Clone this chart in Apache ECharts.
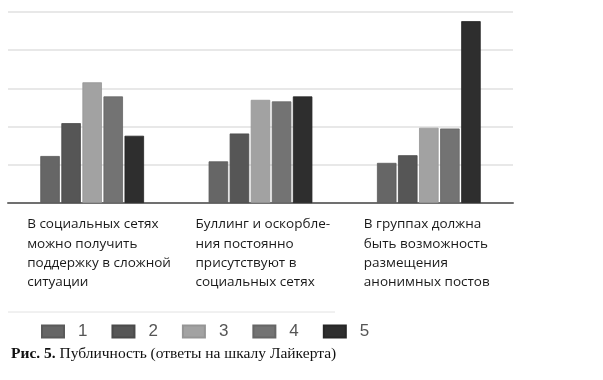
<!DOCTYPE html>
<html>
<head>
<meta charset="utf-8">
<script src="https://cdn.jsdelivr.net/npm/echarts@6/dist/echarts.min.js"></script>
<style>html,body{margin:0;padding:0;background:#fff}#c{width:603px;height:380px}</style>
</head>
<body>
<div id="c"></div>
<script>
const categories = [
  'В социальных сетях\nможно получить\nподдержку в сложной\nситуации',
  'Буллинг и оскорбле-\nния постоянно\nприсутствуют в\nсоциальных сетях',
  'В группах должна\nбыть возможность\nразмещения\nанонимных постов'
];
const seriesNames = ['1', '2', '3', '4', '5'];
const s1 = [12.3, 10.9, 10.5];
const s2 = [20.9, 18.2, 12.5];
const s3 = [31.6, 27.0, 19.7];
const s4 = [27.9, 26.6, 19.5];
const s5 = [17.6, 27.9, 47.6];
const yTicks = [0, 10, 20, 30, 40, 50];
const captionBold = 'Рис. 5.';
const captionText = 'Публичность (ответы на шкалу Лайкерта)';

const colors = ['#666666', '#565656', '#a2a2a2', '#737373', '#2e2e2e'];
const borders = ['#5a5a5a', '#4a4a4a', '#959595', '#666666', '#262626'];
const allData = [s1, s2, s3, s4, s5];

const chart = echarts.init(document.getElementById('c'), null, {renderer: 'canvas'});
chart.setOption({
  animation: false,
  backgroundColor: '#ffffff',
  title: {
    left: 6, top: 341,
    text: '{b|' + captionBold + '} ' + captionText,
    textStyle: {
      fontFamily: 'Liberation Serif', fontSize: 15.5, fontWeight: 'normal', color: '#111',
      rich: { b: { fontFamily: 'Liberation Serif', fontSize: 15.5, fontWeight: 'bold', color: '#111' } }
    }
  },
  legend: {
    left: 36, top: 318,
    itemWidth: 22, itemHeight: 12, itemGap: 24,
    icon: 'rect',
    textStyle: { fontFamily: 'Liberation Sans', fontSize: 17, color: '#555', padding: [2, 0, 0, 9] },
    data: seriesNames
  },
  graphic: [{
    type: 'line', shape: { x1: 8, y1: 312, x2: 335, y2: 312 },
    style: { stroke: '#e2e2e2', lineWidth: 1 }
  }],
  grid: { left: 8, right: 90, top: 12, bottom: 177 },
  xAxis: {
    type: 'category',
    data: categories,
    axisTick: { show: false },
    axisLine: { lineStyle: { color: '#707070', width: 2 } },
    axisLabel: {
      interval: 0,
      margin: 12,
      align: 'center',
      width: 130,
      lineHeight: 19.3,
      fontFamily: 'Open Sans', fontSize: 13.5, color: '#1a1a1a',
      formatter: v => v.split('\n').map(l => '{a|' + l + '}').join('\n'),
      rich: { a: { align: 'left', fontFamily: 'Open Sans', fontSize: 13.5, color: '#1a1a1a', lineHeight: 19.3 } }
    }
  },
  yAxis: {
    type: 'value',
    min: yTicks[0], max: yTicks[yTicks.length - 1], interval: yTicks[1] - yTicks[0],
    axisLabel: { show: false },
    axisLine: { show: false },
    axisTick: { show: false },
    splitLine: { lineStyle: { color: '#e0e0e0', width: 1.5 } }
  },
  series: seriesNames.map((n, i) => ({
    name: n,
    type: 'bar',
    data: allData[i],
    barWidth: 19.5,
    barGap: '8%',
    itemStyle: { color: colors[i], borderColor: borders[i], borderWidth: 0.8 }
  }))
});
</script>
</body>
</html>
